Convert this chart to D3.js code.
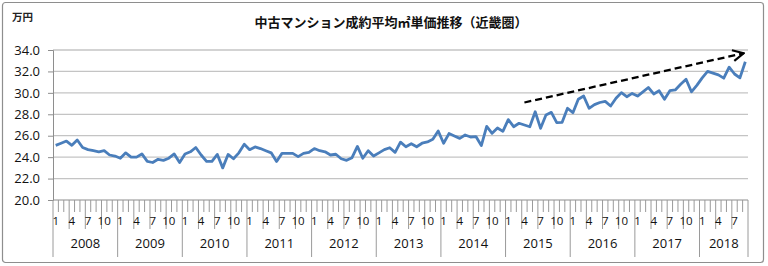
<!DOCTYPE html>
<html>
<head>
<meta charset="utf-8">
<script src="https://cdn.jsdelivr.net/npm/d3@7"></script>
<style>
  body { margin: 0; background: #fff; }
  svg { display: block; }
</style>
</head>
<body>
<script>
// 中古マンション成約平均㎡単価（近畿圏） 2008/1 - 2018/9, 万円
const years = [2008, 2009, 2010, 2011, 2012, 2013, 2014, 2015, 2016, 2017, 2018];
const monthLabels = [1, 4, 7, 10];
const yTicks = [20, 22, 24, 26, 28, 30, 32, 34];

const prices = [
    25.1, 25.3, 25.5, 25.1, 25.6, 24.9, 24.7, 24.6, 24.5, 24.6, 24.2, 24.1,   // 2008
    23.9, 24.4, 24.0, 24.0, 24.3, 23.6, 23.5, 23.8, 23.7, 23.9, 24.3, 23.5,   // 2009
    24.3, 24.5, 24.9, 24.2, 23.6, 23.6, 24.25, 23.0, 24.25, 23.85, 24.4, 25.2, // 2010
    24.7, 24.95, 24.8, 24.6, 24.4, 23.6, 24.35, 24.35, 24.35, 24.05, 24.35, 24.45, // 2011
    24.8, 24.6, 24.5, 24.2, 24.27, 23.85, 23.7, 23.95, 25.0, 23.9, 24.6, 24.1,  // 2012
    24.4, 24.7, 24.88, 24.45, 25.4, 24.97, 25.25, 24.97, 25.3, 25.42, 25.66, 26.44, // 2013
    25.3, 26.2, 25.97, 25.75, 26.07, 25.88, 25.92, 25.08, 26.87, 26.22, 26.72, 26.41, // 2014
    27.5, 26.84, 27.16, 27.0, 26.84, 28.24, 26.69, 27.93, 28.18, 27.22, 27.25, 28.56, // 2015
    28.15, 29.4, 29.7, 28.56, 28.9, 29.1, 29.2, 28.77, 29.49, 30.02, 29.64, 29.95, // 2016
    29.7, 30.1, 30.5, 29.9, 30.2, 29.4, 30.2, 30.27, 30.8, 31.27, 30.1, 30.7,   // 2017
    31.4, 32.0, 31.84, 31.68, 31.37, 32.4, 31.76, 31.4, 32.9                    // 2018
];

// dashed trend arrow (month index, value)
const trendStart = [87.5, 29.1];
const trendEnd = [128.2, 33.7];

const svgWidth = 768;
const svgHeight = 266;
const plot = { left: 53, right: 748, top: 50, bottom: 200 };

const svg = d3.select('body')
    .append('svg')
    .attr('width', svgWidth)
    .attr('height', svgHeight);

const nMonths = prices.length;

const x = d3.scaleLinear()
    .domain([0, nMonths])
    .range([plot.left, plot.right]);

const y = d3.scaleLinear()
    .domain([20, 34])
    .range([plot.bottom, plot.top]);

const numFont = '"Open Sans", "Noto Sans", sans-serif';
const jpFont = '"Noto Sans CJK JP", "Noto Sans", sans-serif';

// outer frame
svg.append('rect')
    .attr('x', 2.5)
    .attr('y', 2.5)
    .attr('width', 761)
    .attr('height', 260)
    .attr('rx', 3)
    .attr('fill', 'none')
    .attr('stroke', '#8e8e8e')
    .attr('stroke-width', 1.2);

// title
svg.append('text')
    .attr('x', 391)
    .attr('y', 27)
    .attr('text-anchor', 'middle')
    .style('font-family', jpFont)
    .style('font-size', '13px')
    .style('font-weight', 'bold')
    .style('fill', '#111')
    .text('中古マンション成約平均㎡単価推移（近畿圏）');

svg.append('text')
    .attr('x', 12)
    .attr('y', 21)
    .style('font-family', jpFont)
    .style('font-size', '10.5px')
    .style('font-weight', 'bold')
    .style('fill', '#222')
    .text('万円');

// gridlines
svg.append('g')
    .selectAll('line')
    .data(yTicks.filter(d => d > 20))
    .enter()
    .append('line')
    .attr('x1', plot.left)
    .attr('x2', plot.right)
    .attr('y1', d => y(d))
    .attr('y2', d => y(d))
    .attr('stroke', '#c4c4c4')
    .attr('stroke-width', 1.3);

// y axis
const yAxis = svg.append('g')
    .attr('transform', `translate(${plot.left},0)`)
    .call(d3.axisLeft(y).tickValues(yTicks).tickFormat(d3.format('.1f')).tickSize(5).tickPadding(8));

yAxis.select('.domain').attr('stroke', '#8e8e8e');
yAxis.selectAll('.tick line').attr('stroke', '#8e8e8e');
yAxis.selectAll('text')
    .style('font-family', numFont)
    .style('font-size', '13px')
    .style('fill', '#111');

// category axis: baseline, month ticks, label separators, year separators
const axisG = svg.append('g');

axisG.append('line')
    .attr('x1', plot.left)
    .attr('x2', plot.right)
    .attr('y1', plot.bottom)
    .attr('y2', plot.bottom)
    .attr('stroke', '#8e8e8e')
    .attr('stroke-width', 1.2);

const boundaries = d3.range(0, nMonths + 1);

axisG.selectAll('.mtick')
    .data(boundaries)
    .enter()
    .append('line')
    .attr('class', 'mtick')
    .attr('x1', d => x(d))
    .attr('x2', d => x(d))
    .attr('y1', plot.bottom)
    .attr('y2', d => {
        if (d % 12 === 0 || d === nMonths) return 257;
        if (d % 3 === 0) return 229;
        return 212;
    })
    .attr('stroke', '#9a9a9a')
    .attr('stroke-width', 1);

// month labels
const monthIdx = d3.range(nMonths).filter(i => monthLabels.includes(i % 12 + 1));

axisG.selectAll('.mlabel')
    .data(monthIdx)
    .enter()
    .append('text')
    .attr('class', 'mlabel')
    .attr('x', i => x(i + 0.5))
    .attr('y', 225)
    .attr('text-anchor', 'middle')
    .style('font-family', numFont)
    .style('font-size', '11.5px')
    .style('fill', '#111')
    .text(i => i % 12 + 1);

// year labels
axisG.selectAll('.ylabel')
    .data(years)
    .enter()
    .append('text')
    .attr('class', 'ylabel')
    .attr('x', (d, i) => (x(i * 12) + x(Math.min((i + 1) * 12, nMonths))) / 2)
    .attr('y', 248)
    .attr('text-anchor', 'middle')
    .style('font-family', numFont)
    .style('font-size', '13px')
    .style('fill', '#111')
    .text(d => d);

// price line
const line = d3.line()
    .x((d, i) => x(i + 0.5))
    .y(d => y(d));

svg.append('path')
    .datum(prices)
    .attr('d', line)
    .attr('fill', 'none')
    .attr('stroke', '#4a7ebb')
    .attr('stroke-width', 2.8)
    .attr('stroke-linejoin', 'round');

// trend arrow
svg.append('defs')
    .append('marker')
    .attr('id', 'arrow')
    .attr('markerUnits', 'userSpaceOnUse')
    .attr('viewBox', '0 0 12 12')
    .attr('refX', 11)
    .attr('refY', 6)
    .attr('markerWidth', 13)
    .attr('markerHeight', 13)
    .attr('orient', 'auto')
    .append('path')
    .attr('d', 'M1,1 L11,6 L1,11')
    .attr('fill', 'none')
    .attr('stroke', '#000')
    .attr('stroke-width', 2);

svg.append('line')
    .attr('x1', x(trendStart[0]))
    .attr('y1', y(trendStart[1]))
    .attr('x2', x(trendEnd[0]))
    .attr('y2', y(trendEnd[1]))
    .attr('stroke', '#000')
    .attr('stroke-width', 2.3)
    .attr('stroke-dasharray', '7,4')
    .attr('marker-end', 'url(#arrow)');
</script>
</body>
</html>
